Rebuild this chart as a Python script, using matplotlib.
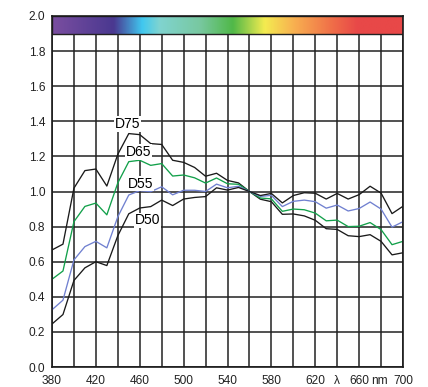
import numpy as np
import matplotlib
matplotlib.use("Agg")
import matplotlib.pyplot as plt
from matplotlib.colors import LinearSegmentedColormap
from matplotlib.patches import Rectangle
import matplotlib.transforms as mtransforms

plt.rcParams['font.family'] = ['Liberation Sans', 'DejaVu Sans']

wavelength = np.arange(380, 701, 10)
d75 = [0.667, 0.700, 1.019, 1.119, 1.128, 1.031, 1.212, 1.330, 1.324, 1.273, 1.268,
       1.178, 1.166, 1.137, 1.087, 1.104, 1.063, 1.049, 1.000, 0.956, 0.942, 0.870,
       0.872, 0.861, 0.836, 0.788, 0.784, 0.748, 0.743, 0.754, 0.716, 0.639, 0.651]
d65 = [0.500, 0.547, 0.828, 0.915, 0.934, 0.867, 1.049, 1.170, 1.178, 1.149, 1.159,
       1.088, 1.094, 1.078, 1.048, 1.077, 1.044, 1.041, 1.000, 0.963, 0.958, 0.887,
       0.900, 0.896, 0.877, 0.833, 0.837, 0.800, 0.802, 0.823, 0.783, 0.697, 0.716]
d55 = [0.326, 0.381, 0.610, 0.686, 0.716, 0.679, 0.856, 0.980, 1.005, 0.999, 1.027,
       0.981, 1.007, 1.007, 1.000, 1.042, 1.021, 1.030, 1.000, 0.972, 0.978, 0.914,
       0.944, 0.951, 0.942, 0.905, 0.923, 0.889, 0.903, 0.940, 0.900, 0.797, 0.828]
d50 = [0.245, 0.299, 0.493, 0.565, 0.600, 0.578, 0.748, 0.873, 0.906, 0.914, 0.951,
       0.920, 0.957, 0.966, 0.971, 1.021, 1.008, 1.023, 1.000, 0.977, 0.989, 0.935,
       0.977, 0.993, 0.990, 0.957, 0.989, 0.957, 0.982, 1.030, 0.991, 0.874, 0.916]

series_names = ["D75", "D65", "D55", "D50"]
series_colors = ["#1a1a1a", "#12a04a", "#7080d0", "#1a1a1a"]
label_pos = {"D75": (449, 1.385), "D65": (459, 1.225), "D55": (461, 1.045), "D50": (467, 0.835)}

tick_pos = [380, 420, 460, 500, 540, 580, 620, 640, 660, 680, 700]
tick_labels = ["380", "420", "460", "500", "540", "580", "620", "λ", "660", "nm", "700"]
y_ticks = np.round(np.arange(0, 2.01, 0.2), 1)

spec_nm = [380, 436, 462, 478, 515, 545, 574, 601, 638, 659, 700]
spec_col = ["#7a4ea0", "#4a3890", "#40c8f0", "#80d4d0", "#78c8a0", "#50b848",
            "#f4ec50", "#f8b050", "#ef6a48", "#e84848", "#e84848"]

fig = plt.figure(figsize=(4.28, 3.87), dpi=100)
ax = fig.add_axes([52/428, 1 - 367/387, (403 - 52)/428, (367 - 16)/387])
ax.set_xlim(380, 700)
ax.set_ylim(0, 2.0)

# grid
for x in range(380, 701, 20):
    ax.axvline(x, color="#222222", lw=1.1, zorder=1)
for y in y_ticks:
    ax.axhline(y, color="#222222", lw=1.1, zorder=1)

for name, vals, col in zip(series_names, [d75, d65, d55, d50], series_colors):
    ax.plot(wavelength, vals, color=col, lw=0.95, zorder=3)
    lx, ly = label_pos[name]
    ax.text(lx, ly, name, fontsize=10, ha="center", va="center", zorder=5,
            bbox=dict(facecolor="white", edgecolor="none", pad=0.6))

# spectrum bar
pos = [(n - 380) / 320 for n in spec_nm]
cmap = LinearSegmentedColormap.from_list("spec", list(zip(pos, spec_col)))
grad = np.linspace(0, 1, 512).reshape(1, -1)
ax.imshow(grad, cmap=cmap, aspect="auto", extent=[380, 700, 1.9, 2.0], zorder=4,
          interpolation="bilinear")
ax.add_patch(Rectangle((380, 1.9), 320, 0.1, fill=False, edgecolor="#222222", lw=1.0, zorder=6))
ax.set_xlim(380, 700)
ax.set_ylim(0, 2.0)

ax.set_xticks(tick_pos)
ax.set_xticklabels(tick_labels)
ax.set_yticks(y_ticks)
ax.set_yticklabels([f"{v:.1f}" for v in y_ticks])
ax.tick_params(length=0, labelsize=8.6, colors="#222222")
ax.tick_params(axis="x", pad=6)
ax.tick_params(axis="y", pad=5)
for lbl in ax.get_xticklabels():
    if lbl.get_text() == "nm":
        lbl.set_transform(lbl.get_transform() + mtransforms.ScaledTranslation(-2/100, 0, fig.dpi_scale_trans))
for s in ax.spines.values():
    s.set_linewidth(1.2)
    s.set_color("#1a1a1a")
    s.set_zorder(7)

fig.savefig("out.png", dpi=100)
